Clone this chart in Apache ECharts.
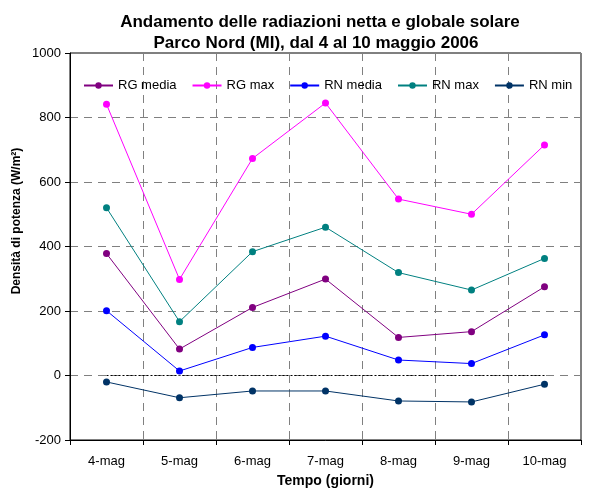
<!DOCTYPE html>
<html><head><meta charset="utf-8">
<script src="https://cdn.jsdelivr.net/npm/echarts@6/dist/echarts.min.js"></script>
<style>html,body{margin:0;padding:0;background:#fff}#c{width:604px;height:490px}</style>
</head><body><div id="c"></div>
<script>
const categories = ['4-mag','5-mag','6-mag','7-mag','8-mag','9-mag','10-mag'];
const rgMedia = [378, 82, 211, 299, 118, 136, 275];
const rgMax = [841, 298, 673, 845, 547, 500, 715];
const rnMedia = [201, 14, 87, 122, 48, 37, 126];
const rnMax = [520, 167, 384, 460, 319, 265, 363];
const rnMin = [-20, -69, -48, -48, -79, -82, -27];
const zeroLine = [0, 0, 0, 0, 0, 0, 0];

const font = 'Liberation Sans, Arial, sans-serif';
function s(name, data, color) {
  return {name, type:'line', data, color, symbol:'circle', symbolSize:7,
    lineStyle:{width:1, color}, itemStyle:{color}, z:3};
}
const chart = echarts.init(document.getElementById('c'));
chart.setOption({
  animation:false,
  textStyle:{fontFamily:font},
  title:[
    {text:'Andamento delle radiazioni netta e globale solare', left:315, textAlign:'center', top:9,
      textStyle:{fontSize:17, fontWeight:'bold', color:'#000', fontFamily:font}},
    {text:'Parco Nord (MI), dal 4 al 10 maggio 2006', left:311, textAlign:'center', top:30,
      textStyle:{fontSize:17, fontWeight:'bold', color:'#000', fontFamily:font}}
  ],
  legend:{left:78, top:74, itemWidth:29, itemHeight:8, itemGap:15,
    textStyle:{fontSize:13, color:'#000', fontFamily:font},
    data:['RG media','RG max','RN media','RN max','RN min']},
  grid:{left:70, right:23, top:53, bottom:50, show:true, borderColor:'#000', borderWidth:1,
    outerBoundsMode:'none', containLabel:false},
  graphic:[{type:'text', x:17, y:221, rotation:Math.PI/2,
    style:{text:'Densità di potenza (W/m²)', font:'bold 12px ' + font, fill:'#000', align:'center', verticalAlign:'middle'}}],
  xAxis:{type:'category', data:categories, boundaryGap:true,
    name:'Tempo (giorni)', nameLocation:'middle', nameGap:34,
    nameTextStyle:{fontSize:14, fontWeight:'bold', color:'#000', fontFamily:font},
    axisLine:{onZero:false, lineStyle:{color:'#000'}},
    axisTick:{show:true, length:5, lineStyle:{color:'#000'}},
    axisLabel:{fontSize:13, color:'#000', margin:15},
    splitLine:{show:true, lineStyle:{color:'#808080', type:[8,6]}}},
  yAxis:{type:'value', min:-200, max:1000, interval:200,
    axisLine:{show:true, lineStyle:{color:'#000'}},
    axisTick:{show:true, length:5, lineStyle:{color:'#000'}},
    axisLabel:{fontSize:13, color:'#000', margin:9, formatter:v => String(v)},
    splitLine:{show:true, lineStyle:{color:'#808080', type:[8,6]}}},
  series:[
    {name:'zero', type:'line', data:zeroLine, symbol:'none', silent:true,
      lineStyle:{color:'#000', width:1, type:[2,2]}, z:2},
    s('RG media', rgMedia, '#800080'),
    s('RG max', rgMax, '#FF00FF'),
    s('RN media', rnMedia, '#0000FF'),
    s('RN max', rnMax, '#008080'),
    s('RN min', rnMin, '#003366')
  ]
});
</script></body></html>
